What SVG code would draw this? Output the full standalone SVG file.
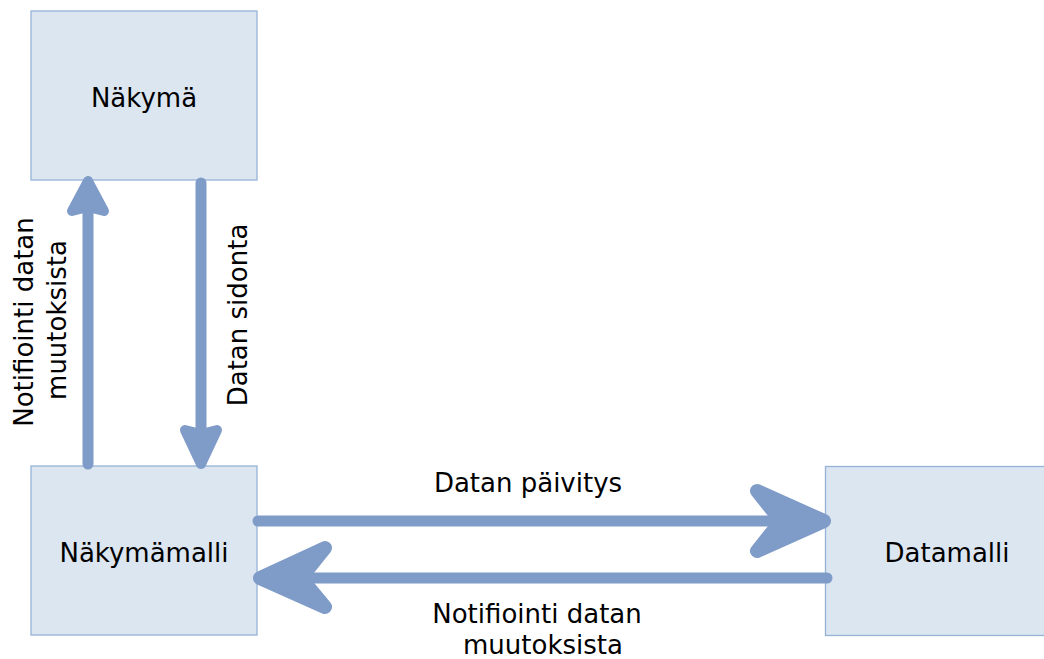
<svg xmlns="http://www.w3.org/2000/svg" width="1044" height="659" viewBox="0 0 1044 659">
<style>
.box{fill:#dce6f1;stroke:#95b3d7;stroke-width:1.3}
.lbl{font-family:"DejaVu Sans",Verdana,sans-serif;font-size:26px;fill:#000;text-anchor:middle}
.arr{fill:none;stroke:#7f9bc8;stroke-width:11;stroke-linecap:round;stroke-linejoin:round}
.head{fill:#7f9bc8;stroke:#7f9bc8;stroke-linejoin:round}
</style>
<rect width="1044" height="659" fill="#fff"/>
<g id="nakyma"><rect class="box" x="31" y="11" width="226" height="169"/><text class="lbl" x="144" y="107">Näkymä</text></g>
<g id="nakymamalli"><rect class="box" x="31" y="466" width="226" height="169"/><text class="lbl" x="144" y="562">Näkymämalli</text></g>
<g id="datamalli"><rect class="box" x="825.5" y="466.5" width="226" height="169"/><text class="lbl" x="947" y="562">Datamalli</text></g>
<g id="connectors">
<path class="arr" d="M88 464V205"/>
<path class="head" stroke-width="10" d="M88 181L104 211L88 207L72 211Z"/>
<path class="arr" d="M201 183V440"/>
<path class="head" stroke-width="10" d="M201 464L217 430L201 434L185 430Z"/>
<path class="arr" d="M258 521H790"/>
<path class="head" stroke-width="14" d="M757 491L824 521L757 551L781 521Z"/>
<path class="arr" d="M827 578H295"/>
<path class="head" stroke-width="14" d="M325 548L260 578L325 607L301 578Z"/>
<text class="lbl" x="528" y="492">Datan päivitys</text>
<text class="lbl" x="537" y="623">Notifiointi datan</text>
<text class="lbl" x="543" y="654">muutoksista</text>
<text class="lbl" transform="translate(33 322) rotate(-90)">Notifiointi datan</text>
<text class="lbl" transform="translate(66 320) rotate(-90)">muutoksista</text>
<text class="lbl" transform="translate(247 315) rotate(-90)">Datan sidonta</text>
</g>
</svg>
